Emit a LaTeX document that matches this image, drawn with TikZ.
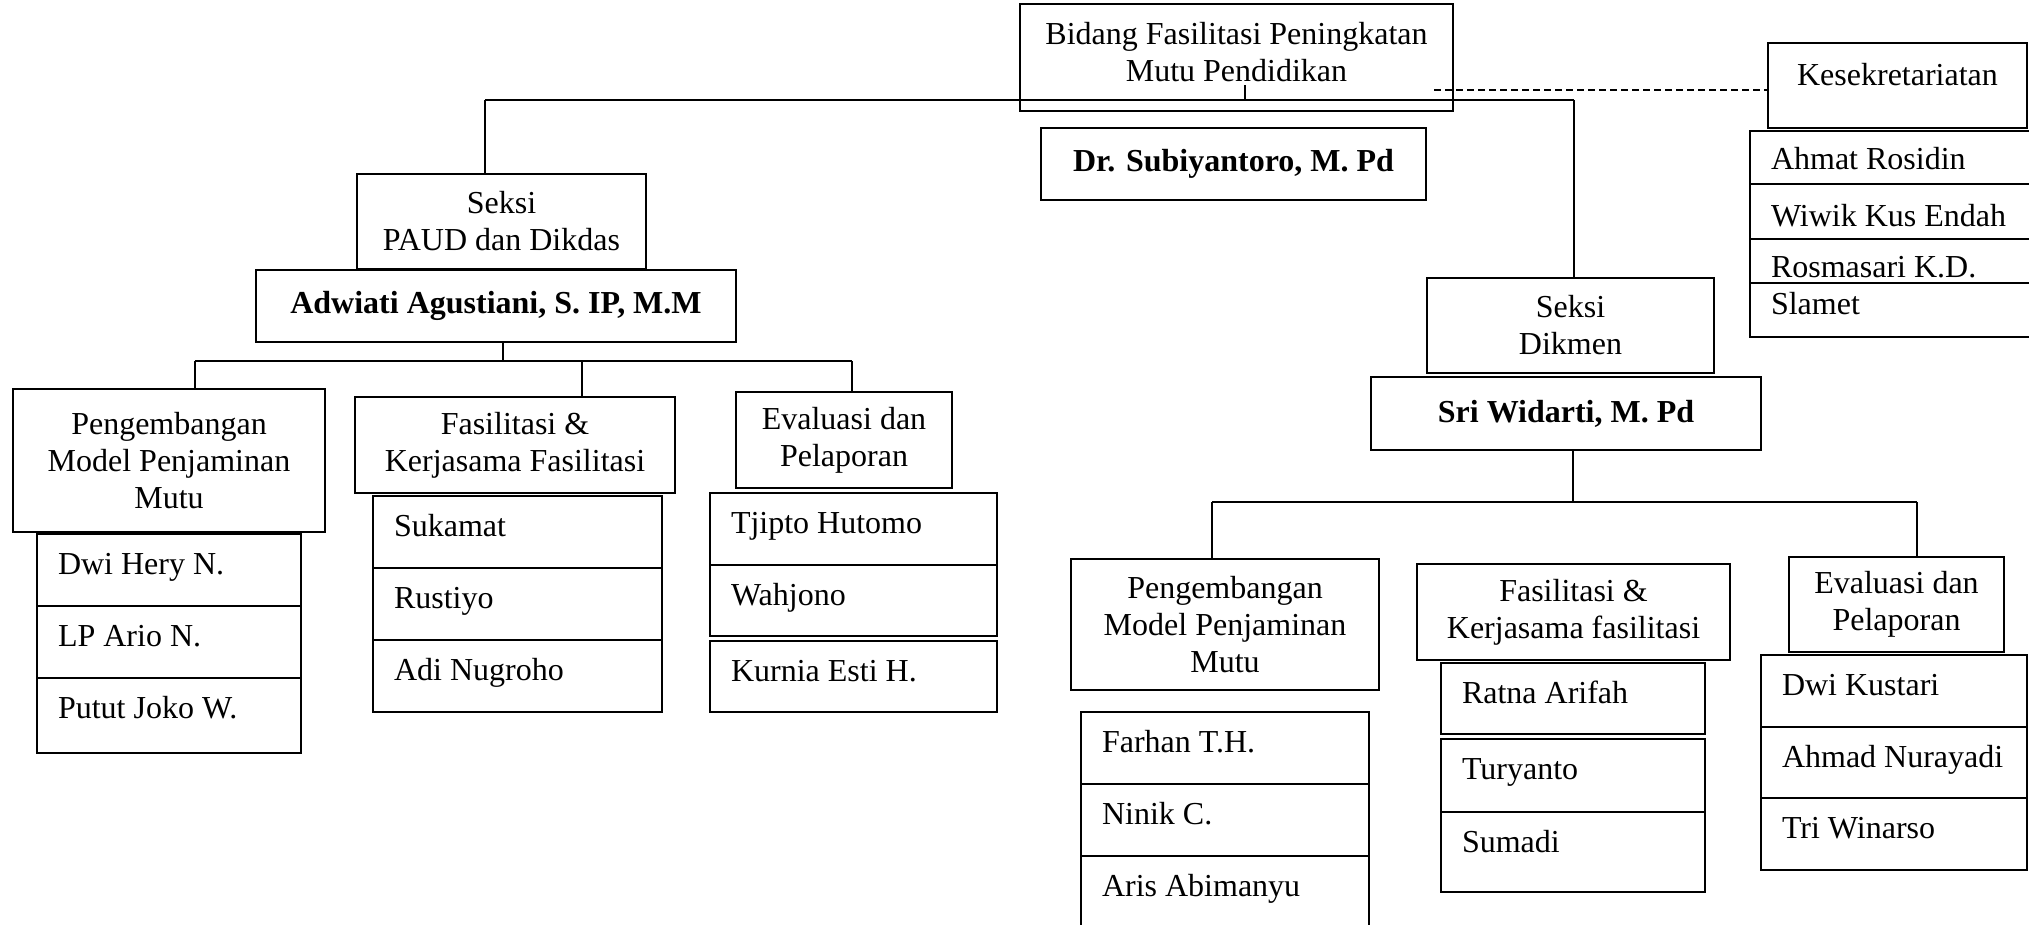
\documentclass[tikz,border=0pt]{standalone}
\usepackage{fontspec}
\setmainfont{Liberation Serif}
\usetikzlibrary{positioning}

\begin{document}
\begin{tikzpicture}[x=1pt,y=-1pt,line width=1.3pt,font=\fontsize{32}{37}\selectfont]
	\tikzstyle{sect}=[draw, line width=1.8pt, align=center]
	\tikzstyle{chief}=[draw, line width=1.8pt, font=\fontsize{32}{37}\selectfont\bfseries]
	\tikzstyle{staff}=[draw, line width=1.8pt, outer sep=0pt, inner ysep=0pt, inner xsep=21pt, align=flush left, text height=40pt, text depth=32pt]
	\useasboundingbox (0,0) rectangle (2029,925);

	% kepala bidang dan kesekretariatan
	\node[sect, minimum width=433pt, minimum height=107pt, text depth=12pt] (bidang) at (1236.5,57.5) {Bidang Fasilitasi Peningkatan\\Mutu Pendidikan};
	\node[chief, minimum width=385pt, minimum height=72pt] (kabid) at (1233.5,164) {Dr. Subiyantoro, M. Pd};
	\node[sect, minimum width=259pt, minimum height=85pt, text depth=23pt] (kesek) at (1897.5,85.5) {Kesekretariatan};
	\node[staff, text width=238pt, anchor=north west, text height=39pt, text depth=14pt] (k1) at (1750,131) {Ahmat Rosidin};
	\node[staff, text width=238pt, below=0pt of k1, text height=43pt, text depth=12pt] (k2) {Wiwik Kus Endah};
	\node[staff, text width=238pt, below=0pt of k2, text height=39pt, text depth=5pt] (k3) {Rosmasari K.D.};
	\node[staff, text width=238pt, below=0pt of k3, text height=32pt, text depth=22pt] (k4) {Slamet};

	% seksi PAUD dan Dikdas
	\node[sect, minimum width=289pt, minimum height=95pt] (seksiA) at (501.5,221.5) {Seksi\\PAUD dan Dikdas};
	\node[chief, minimum width=480pt, minimum height=72pt] (kasiA) at (496,306) {Adwiati Agustiani, S. IP, M.M};
	\node[sect, minimum width=312pt, minimum height=143pt] (pmA) at (169,460.5) {Pengembangan\\Model Penjaminan\\Mutu};
	\node[sect, minimum width=320pt, minimum height=96pt] (fasA) at (515,445) {Fasilitasi \&\\Kerjasama Fasilitasi};
	\node[sect, minimum width=216pt, minimum height=96pt] (evA) at (844,440) {Evaluasi dan\\Pelaporan};

	\node[staff, text width=222pt, anchor=north west] (a11) at (37,534) {Dwi Hery N.};
	\node[staff, text width=222pt, below=0pt of a11] (a12) {LP Ario N.};
	\node[staff, text width=222pt, below=0pt of a12, text depth=35pt] (a13) {Putut Joko W.};
	\node[staff, text width=247pt, anchor=north west] (a21) at (373,496) {Sukamat};
	\node[staff, text width=247pt, below=0pt of a21] (a22) {Rustiyo};
	\node[staff, text width=247pt, below=0pt of a22] (a23) {Adi Nugroho};
	\node[staff, text width=245pt, anchor=north west] (a31) at (710,493) {Tjipto Hutomo};
	\node[staff, text width=245pt, below=0pt of a31, text depth=31pt] (a32) {Wahjono};
	\node[staff, text width=245pt, below=5pt of a32, text depth=31pt] (a33) {Kurnia Esti H.};

	% seksi Dikmen
	\node[sect, minimum width=287pt, minimum height=95pt] (seksiB) at (1570.5,325.5) {Seksi\\Dikmen};
	\node[chief, minimum width=390pt, minimum height=73pt] (kasiB) at (1566,413.5) {Sri Widarti, M. Pd};
	\node[sect, minimum width=308pt, minimum height=131pt] (pmB) at (1225,624.5) {Pengembangan\\Model Penjaminan\\Mutu};
	\node[sect, minimum width=313pt, minimum height=96pt] (fasB) at (1573.5,612) {Fasilitasi \&\\Kerjasama fasilitasi};
	\node[sect, minimum width=215pt, minimum height=95pt] (evB) at (1896.5,604.5) {Evaluasi dan\\Pelaporan};

	\node[staff, text width=246pt, anchor=north west] (b11) at (1081,712) {Farhan T.H.};
	\node[staff, text width=246pt, below=0pt of b11] (b12) {Ninik C.};
	\node[staff, text width=246pt, below=0pt of b12, text depth=35pt] (b13) {Aris Abimanyu};
	\node[staff, text width=222pt, anchor=north west, text depth=31pt] (b21) at (1441,663) {Ratna Arifah};
	\node[staff, text width=222pt, below=5pt of b21, text depth=33pt] (b22) {Turyanto};
	\node[staff, text width=222pt, below=0pt of b22, text depth=40pt] (b23) {Sumadi};
	\node[staff, text width=224pt, anchor=north west] (b31) at (1761,655) {Dwi Kustari};
	\node[staff, text width=224pt, below=0pt of b31, text depth=31pt] (b32) {Ahmad Nurayadi};
	\node[staff, text width=224pt, below=0pt of b32] (b33) {Tri Winarso};

	% garis
	\coordinate (busL) at (485,100);
	\coordinate (busM) at (1245,100);
	\coordinate (busR) at (1574,100);
	\coordinate (dashL) at (1434,90);
	\draw (busL) -- (busR);
	\draw (busM) -- ++(0,-15);
	\draw (seksiA.north -| busL) -- (busL);
	\draw (busR) -- (seksiB.north -| busR);
	\draw[dashed, dash pattern=on 6.5pt off 4.5pt] (dashL) -- (dashL -| kesek.west);

	\coordinate (jA) at (503,361);
	\coordinate (dA1) at (195,361);
	\coordinate (dA2) at (582,361);
	\coordinate (dA3) at (852,361);
	\coordinate (jB) at (1573,502);
	\coordinate (dB1) at (1212,502);
	\coordinate (dB3) at (1917,502);
	\draw (kasiA.south -| jA) -- (jA);
	\draw (dA1) -- (dA3);
	\draw (kasiB.south -| jB) -- (jB);
	\draw (dB1) -- (dB3);
	\path
		(dA1) edge (dA1 |- pmA.north)
		(dA2) edge (dA2 |- fasA.north)
		(dA3) edge (dA3 |- evA.north)
		(dB1) edge (dB1 |- pmB.north)
		(dB3) edge (dB3 |- evB.north);
\end{tikzpicture}
\end{document}
